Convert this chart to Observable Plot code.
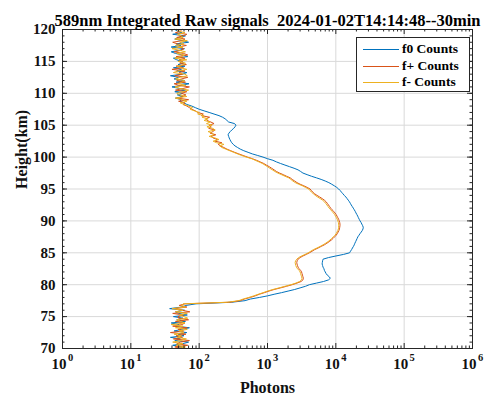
<!DOCTYPE html>
<html><head><meta charset="utf-8">
<script src="https://cdn.jsdelivr.net/npm/d3@7"></script>
<script src="https://cdn.jsdelivr.net/npm/@observablehq/plot@0.6"></script>
<style>
body{margin:0;background:#fff;}
#wrap{position:relative;width:485px;height:394px;}
#legend{position:absolute;left:356px;top:37px;width:114px;height:55px;border:1px solid #262626;background:#fff;font:bold 13.5px "Liberation Serif",serif;color:#000;box-sizing:border-box;}
.row{position:absolute;left:0;height:16px;width:100%;}
.row svg{position:absolute;left:5px;top:0;}
.row span{position:absolute;left:45px;top:0;line-height:16px;white-space:nowrap;}
</style></head><body><div id="wrap"><div id="legend"></div></div>
<script>
const heightStart = 70, heightStep = 0.25;
const f0 = [
 48,62,41,57,70,44,53,38,60,49,66,43,55,72,46,51,39,63,47,58,
 42,67,50,45,61,37,56,64,90,300,470,560,760,1000,1250,1600,2000,2500,3000,3600,
 4100,5200,6600,7800,8300,8000,7500,7200,7000,6800,6700,6500,6400,6300,6350,6400,6500,7800,10000,13000,
 15900,16400,17000,17500,18100,18600,19000,19500,20000,20500,21000,21800,22600,23500,24400,25000,25200,24700,24000,23400,
 22600,22000,21400,20900,20300,19700,19200,18600,18000,17400,16800,16300,15800,15200,14600,14000,13300,12700,12100,11600,
 11000,10300,9500,8700,7900,7000,6100,5200,4400,3800,3300,3050,2800,2450,2100,1800,1550,1350,1200,1000,
 860,720,600,520,450,400,365,335,315,300,290,282,275,270,265,272,285,300,320,335,
 345,330,270,255,240,220,195,165,140,118,100,88,78,66,60,52,55,45,58,48,
 58,44,63,52,40,56,71,46,61,43,50,38,57,66,47,55,42,62,49,59,
 55,47,42,68,58,45,39,52,61,39,54,46,70,57,44,50,63,41,56,48,
 44];
const fPlus = [
 55,44,68,47,53,72,42,57,46,64,38,59,49,67,41,56,62,45,70,50,
 49,59,41,73,56,44,66,51,62,280,400,460,560,660,760,900,1050,1250,1550,1900,
 2300,2700,3100,3300,3350,3300,3250,3200,3150,3050,2900,2800,2750,2700,2680,2720,2800,3000,3300,3700,
 4100,4500,4900,5500,6100,6800,7400,8000,8600,9100,9600,10100,10500,10800,11100,11300,11400,11500,11500,11400,
 11200,11000,10700,10400,10100,9700,9300,8800,8400,8100,7800,7500,7200,6800,6300,5800,5300,4900,4600,4400,
 4200,3800,3400,3000,2700,2500,2300,2150,1900,1700,1500,1350,1250,1150,1060,960,880,780,690,600,
 510,440,380,330,290,255,230,205,190,215,170,185,160,150,175,145,158,170,138,150,
 140,165,148,130,125,142,108,115,95,88,78,72,66,58,62,50,70,48,58,64,
 55,66,45,58,72,50,43,63,47,55,68,44,57,51,62,40,59,46,65,52,
 57,51,62,46,68,59,43,55,60,50,65,48,41,56,62,47,58,66,45,53,
 56];
const fMinus = [
 50,63,46,58,41,54,65,48,55,43,60,51,67,45,58,39,62,53,47,68,
 60,51,67,45,58,40,63,55,58,260,380,440,530,630,730,860,1000,1200,1480,1800,
 2200,2600,2950,3150,3200,3150,3100,3050,3000,2900,2750,2650,2600,2560,2540,2580,2680,2850,3150,3550,
 3950,4300,4700,5300,5900,6500,7100,7700,8200,8700,9200,9700,10100,10400,10700,10900,11000,11000,11000,10900,
 10700,10500,10200,9900,9600,9200,8800,8400,8000,7700,7400,7100,6800,6400,5900,5400,5000,4700,4400,4200,
 4000,3600,3250,2850,2550,2350,2200,2050,1800,1600,1420,1280,1180,1080,1000,920,840,750,660,590,
 490,420,365,320,280,245,215,200,230,180,160,195,170,140,165,155,135,172,158,130,
 155,128,145,118,135,110,118,95,100,85,74,80,70,60,53,66,57,45,66,52,
 47,58,70,52,44,64,49,56,61,45,53,67,62,42,49,66,55,47,60,63,
 49,66,44,55,61,47,63,51,40,58,45,60,52,67,44,58,55,48,62,50,
 47];
const seriesNames = ["f0 Counts", "f+ Counts", "f- Counts"];
const seriesColors = ["#0072BD", "#D95319", "#EDB120"];
const xTicks = [1, 10, 100, 1000, 10000, 100000, 1000000];
const xTickExp = ["0", "1", "2", "3", "4", "5", "6"];
const yTicks = [70, 75, 80, 85, 90, 95, 100, 105, 110, 115, 120];
const titleText = "589nm Integrated Raw signals  2024-01-02T14:14:48--30min";
const xLabel = "Photons";
const yLabel = "Height(km)";

const series = [f0, fPlus, fMinus];
const rows = [];
series.forEach((arr, s) => arr.forEach((v, i) => rows.push({h: heightStart + heightStep * i, v, s: seriesNames[s]})));

const minorX = [];
for (let d = 0; d < 6; d++) for (let k = 2; k < 10; k++) minorX.push(k * Math.pow(10, d));
const minorY = d3.range(71, 120, 1);

const font = '"Liberation Serif","Times New Roman",serif';
const W = 485, H = 394, mL = 62, mR = 13, mT = 29, mB = 46;
const pw = W - mL - mR, ph = H - mT - mB;
const tick = (len) => ({bottom: {insetTop: ph - len}, top: {insetBottom: ph - len}, left: {insetRight: pw - len}, right: {insetLeft: pw - len}});
const ink = "#262626";

const chart = Plot.plot({
  width: W, height: H, marginLeft: mL, marginRight: mR, marginTop: mT, marginBottom: mB,
  x: {type: "log", domain: [1, 1e6], axis: null},
  y: {domain: [70, 120], axis: null},
  color: {domain: seriesNames, range: seriesColors},
  style: {fontFamily: font, background: "#fff"},
  marks: [
    Plot.ruleX(xTicks.slice(1, -1), {stroke: "#d9d9d9", strokeWidth: 1}),
    Plot.ruleY(yTicks.slice(1, -1), {stroke: "#d9d9d9", strokeWidth: 1}),
    Plot.line(rows, {x: "v", y: "h", z: "s", stroke: "s", strokeWidth: 1}),
    Plot.frame({stroke: ink, strokeWidth: 1}),
    Plot.tickX(xTicks, {x: d => d, stroke: ink, ...tick(5).bottom}),
    Plot.tickX(xTicks, {x: d => d, stroke: ink, ...tick(5).top}),
    Plot.tickX(minorX, {x: d => d, stroke: ink, ...tick(2.5).bottom}),
    Plot.tickX(minorX, {x: d => d, stroke: ink, ...tick(2.5).top}),
    Plot.tickY(yTicks, {y: d => d, stroke: ink, ...tick(5).left}),
    Plot.tickY(yTicks, {y: d => d, stroke: ink, ...tick(5).right}),
    Plot.tickY(minorY, {y: d => d, stroke: ink, ...tick(2.5).left}),
    Plot.tickY(minorY, {y: d => d, stroke: ink, ...tick(2.5).right}),
    Plot.text(yTicks, {y: d => d, text: d => String(d), frameAnchor: "left", dx: -7, textAnchor: "end", fontSize: 15, fontWeight: "bold", fill: "#111"}),
    Plot.text(xTicks, {x: d => d, text: () => "10", frameAnchor: "bottom", dx: -3.5, dy: 20, fontSize: 15, fontWeight: "bold", fill: "#111"}),
    Plot.text(xTicks, {x: d => d, text: (d, i) => xTickExp[i], frameAnchor: "bottom", dx: 8, dy: 12, fontSize: 10.5, fontWeight: "bold", fill: "#111"}),
    Plot.text([xLabel], {text: d => d, frameAnchor: "bottom", dy: 44, fontSize: 16, fontWeight: "bold", fill: "#111"}),
    Plot.text([yLabel], {text: d => d, frameAnchor: "left", dx: -41, dy: 0, rotate: -90, fontSize: 16, fontWeight: "bold", fill: "#111"}),
    Plot.text([titleText], {text: d => d, frameAnchor: "top", dy: -15, fontSize: 16.5, fontWeight: "bold", fill: "#000"})
  ]
});
const wrap = document.getElementById("wrap");
wrap.insertBefore(chart, wrap.firstChild);

const legend = document.getElementById("legend");
seriesNames.forEach((name, i) => {
  const row = document.createElement("div");
  row.className = "row";
  row.style.top = (3 + i * 16.7) + "px";
  row.innerHTML = `<svg width="38" height="16"><line x1="1" x2="37" y1="8.5" y2="8.5" stroke="${seriesColors[i]}" stroke-width="1"/></svg><span>${name}</span>`;
  legend.appendChild(row);
});
</script>
</body></html>
